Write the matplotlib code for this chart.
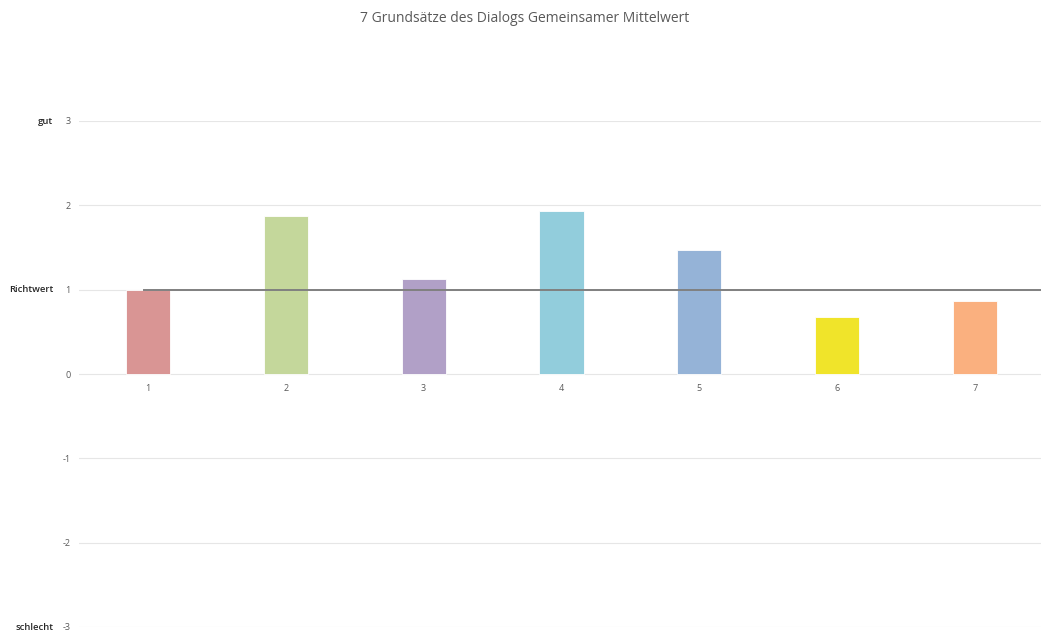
import matplotlib
matplotlib.use("Agg")
import matplotlib.pyplot as plt
from matplotlib.transforms import offset_copy

plt.rcParams['font.family'] = ['Open Sans', 'DejaVu Sans']

# data
categories = ["1", "2", "3", "4", "5", "6", "7"]
values = [1.0, 1.87, 1.13, 1.93, 1.47, 0.67, 0.87]
colors = ["#d99594", "#c4d79b", "#b1a0c7", "#92cddc", "#95b3d7", "#f0e42a", "#fab07f"]
richtwert = 1.0
y_ticks = [-3, -2, -1, 0, 1, 2, 3]
side_labels = {3: "gut", 1: "Richtwert", -3: "schlecht"}
title = "7 Grundsätze des Dialogs Gemeinsamer Mittelwert"

fig = plt.figure(figsize=(10.41, 6.31), dpi=100)
ax = fig.add_axes([79 / 1041, 4 / 631, 965 / 1041, 506 / 631])

x = list(range(1, len(categories) + 1))
ax.bar(x, values, width=0.32, color=colors, edgecolor="white", linewidth=0.6, zorder=2)

# Richtwert line
ax.plot([0.97, 7.6], [richtwert, richtwert], color="#808080", linewidth=1.4, zorder=3)

ax.set_xlim(0.5, 7.5)
ax.set_ylim(-3, 3)
ax.set_yticks(y_ticks)
ax.set_yticklabels([str(t) for t in y_ticks], fontsize=6.5, color="#595959")
ax.tick_params(axis="y", length=0, pad=6)
ax.set_xticks([])
ax.grid(axis="y", color="#e6e6e6", linewidth=0.8, zorder=0)
for s in ax.spines.values():
    s.set_visible(False)

# category labels just below zero line
tr = offset_copy(ax.transData, fig=fig, y=-7, units="points")
for xi, lab in zip(x, categories):
    ax.text(xi, 0, lab, transform=tr, ha="center", va="top", fontsize=6.5, color="#595959")

# side labels
for yv, lab in side_labels.items():
    ax.text(-26 / 965, yv, lab, transform=ax.get_yaxis_transform(), ha="right",
            va="center", fontsize=6.8, color="#262626", fontweight="semibold")

fig.text(525 / 1041, 1 - 18 / 631, title, ha="center", va="center", fontsize=10, color="#595959")

fig.savefig("out.png", dpi=100)
